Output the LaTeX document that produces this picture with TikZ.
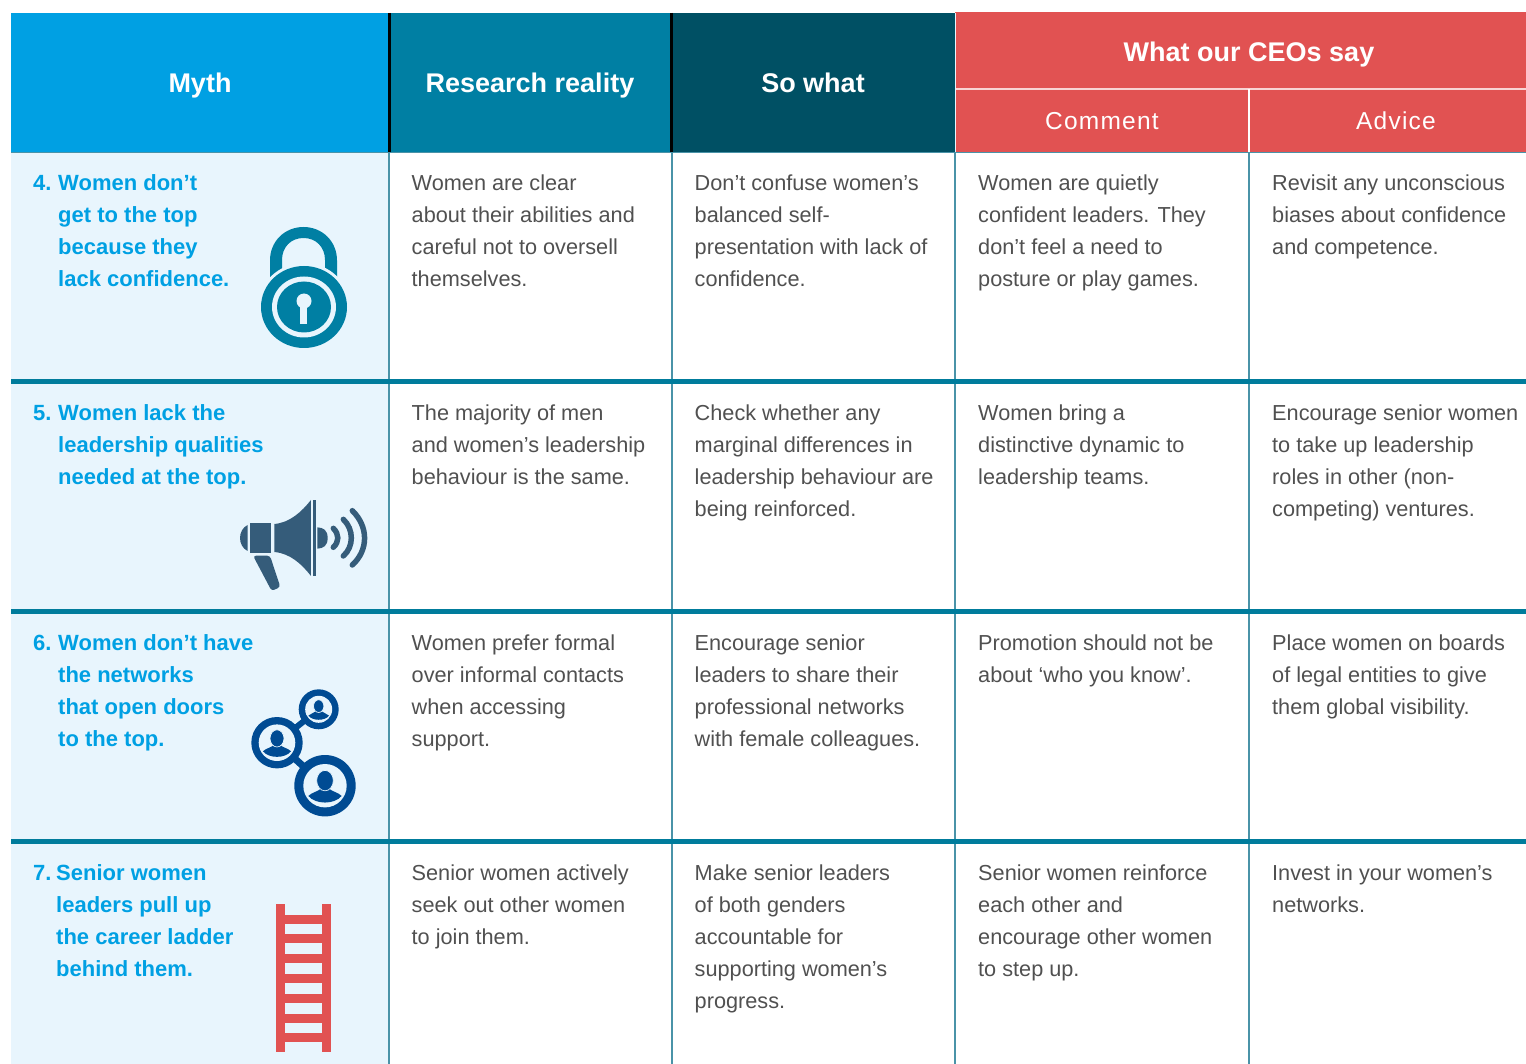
\documentclass[tikz,border=0pt]{standalone}
\usepackage{fontspec}
\setmainfont{Liberation Sans}
\definecolor{mythblue}{HTML}{00A0E3}
\definecolor{research}{HTML}{007FA3}
\definecolor{sowhat}{HTML}{005064}
\definecolor{ceored}{HTML}{E15252}
\definecolor{lightbg}{HTML}{E8F5FD}
\definecolor{rule}{HTML}{007C9C}
\definecolor{thinrule}{HTML}{4A93A8}
\definecolor{bodytext}{HTML}{505050}
\definecolor{mega}{HTML}{355C7A}
\definecolor{netblue}{HTML}{004B93}
\newcommand{\fl}{\rule{0pt}{20pt}}
\newcommand{\pers}[3]{%
  \begin{scope}[shift={(#1,#2)},scale=#3]
    \fill[netblue] (-3.5,2.5) .. controls (-6,5) and (-11,5.5) .. (-14,8.6)
       .. controls (-8,16) and (8,16) .. (14,8.6) .. controls (11,5.5) and (6,5) .. (3.5,2.5) -- cycle;
    \fill[netblue,draw=lightbg,line width=0.7pt] (0,-4.3) ellipse (7 and 8.6);
  \end{scope}}
\tikzset{
  x=1pt,y=-1pt,
  cellbox/.style={inner sep=0pt,anchor=north west,align=left,text=bodytext,font=\fontsize{21.7}{32}\selectfont},
  mythbox/.style={inner sep=0pt,anchor=north west,align=left,text=mythblue,font=\fontsize{22}{32}\selectfont\bfseries},
  headbox/.style={inner sep=0pt,anchor=base,text=white,font=\fontsize{27}{32}\selectfont\bfseries},
  subbox/.style={inner sep=0pt,anchor=base,text=white,font=\fontsize{24.5}{32}\selectfont\addfontfeature{LetterSpace=5}},
  thickrule/.style={draw=rule,line width=5pt},
  thinv/.style={draw=thinrule,line width=1.6pt},
}
\begin{document}
\begin{tikzpicture}
\useasboundingbox (0,0) rectangle (1526,1064);
% backgrounds
\fill[lightbg] (11,152) rectangle (389,1064);
\fill[mythblue] (11,13) rectangle (389,152);
\fill[research] (389,13) rectangle (672,152);
\fill[sowhat] (672,13) rectangle (955,152);
\fill[ceored] (955,12) rectangle (1526,152);
% header rules
\draw[black,line width=3pt] (389.5,13) -- (389.5,152);
\draw[black,line width=3pt] (671.5,13) -- (671.5,152);
\draw[lightbg,line width=1.5pt] (955.5,13) -- (955.5,152);
\draw[white!75!ceored,line width=2pt] (956,89) -- (1526,89);
\draw[white,line width=1.6pt] (1249,89) -- (1249,152);
\draw[thinrule,line width=1.6pt] (11,152.5) -- (1526,152.5);
% grid
\foreach \vx in {389,672,955,1249} \draw[thinv] (\vx,153) -- (\vx,1064);
\foreach \hy in {381.5,611.5,841.5} \draw[thickrule] (11,\hy) -- (1526,\hy);
% headers
\node[headbox] (hmyth) at (200,92.5) {Myth};
\node[headbox] (hres) at (530,92.5) {Research reality};
\node[headbox] (hso) at (813,92.5) {So what};
\node[headbox] (hceo) at (1249,62) {What our CEOs say};
\node[subbox] (hcom) at (1102,130) {Comment};
\node[subbox] (hadv) at (1396,130) {Advice};
% row 1
\node[mythbox] (m4) at (33,170) {\fl\makebox[25pt][l]{4.}Women don’t\\\hspace*{25pt}get to the top\\\hspace*{25pt}because they\\\hspace*{25pt}lack confidence.};
\node[cellbox] (r4) at (411.5,170) {\fl Women are clear\\about their abilities and\\careful not to oversell\\themselves.};
\node[cellbox] (s4) at (694.5,170) {\fl Don’t confuse women’s\\balanced self-\\presentation with lack of\\confidence.};
\node[cellbox] (c4) at (978,170) {\fl Women are quietly\\confident leaders. They\\don’t feel a need to\\posture or play games.};
\node[cellbox] (a4) at (1272,170) {\fl Revisit any unconscious\\biases about confidence\\and competence.};
% row 2
\node[mythbox] (m5) at (33,400) {\fl\makebox[25pt][l]{5.}Women lack the\\\hspace*{25pt}leadership qualities\\\hspace*{25pt}needed at the top.};
\node[cellbox] (r5) at (411.5,400) {\fl The majority of men\\and women’s leadership\\behaviour is the same.};
\node[cellbox] (s5) at (694.5,400) {\fl Check whether any\\marginal differences in\\leadership behaviour are\\being reinforced.};
\node[cellbox] (c5) at (978,400) {\fl Women bring a\\distinctive dynamic to\\leadership teams.};
\node[cellbox] (a5) at (1272,400) {\fl Encourage senior women\\to take up leadership\\roles in other (non-\\competing) ventures.};
% row 3
\node[mythbox] (m6) at (33,630) {\fl\makebox[25pt][l]{6.}Women don’t have\\\hspace*{25pt}the networks\\\hspace*{25pt}that open doors\\\hspace*{25pt}to the top.};
\node[cellbox] (r6) at (411.5,630) {\fl Women prefer formal\\over informal contacts\\when accessing\\support.};
\node[cellbox] (s6) at (694.5,630) {\fl Encourage senior\\leaders to share their\\professional networks\\with female colleagues.};
\node[cellbox] (c6) at (978,630) {\fl Promotion should not be\\about ‘who you know’.};
\node[cellbox] (a6) at (1272,630) {\fl Place women on boards\\of legal entities to give\\them global visibility.};
% row 4
\node[mythbox] (m7) at (33,860) {\fl\makebox[23pt][l]{7.}Senior women\\\hspace*{23pt}leaders pull up\\\hspace*{23pt}the career ladder\\\hspace*{23pt}behind them.};
\node[cellbox] (r7) at (411.5,860) {\fl Senior women actively\\seek out other women\\to join them.};
\node[cellbox] (s7) at (694.5,860) {\fl Make senior leaders\\of both genders\\accountable for\\supporting women’s\\progress.};
\node[cellbox] (c7) at (978,860) {\fl Senior women reinforce\\each other and\\encourage other women\\to step up.};
\node[cellbox] (a7) at (1272,860) {\fl Invest in your women’s\\networks.};
% lock icon
\fill[research] (270,277) -- (270,260.5) .. controls (270,241) and (285,227) .. (303.5,227) .. controls (322,227) and (337,241) .. (337,260.5) -- (337,277) -- (325,277) -- (325,260) .. controls (325,247) and (316,238) .. (303.5,238) .. controls (291,238) and (282,247) .. (282,260) -- (282,277) -- cycle;
\fill[lightbg] (304,307) ellipse (46 and 44);
\fill[research] (304,307) ellipse (43 and 41);
\fill[lightbg] (304,307) ellipse (32 and 30.5);
\fill[research] (304,307) ellipse (27 and 25.5);
\fill[lightbg] (304,301) circle (7.5);
\fill[lightbg] (300.2,303) rectangle (307.4,324.5);
% megaphone icon
\begin{scope}[shift={(230,490)},scale=0.3333]
  \fill[mega] (53,105) .. controls (38,112) and (30,128) .. (30,144) .. controls (30,160) and (38,176) .. (53,183) -- cycle;
  \fill[mega] (60,99) rectangle (124,188);
  \fill[mega] (133,102) .. controls (180,98) and (215,65) .. (243,30) -- (243,258) .. controls (215,222) and (180,190) .. (133,186) -- cycle;
  \fill[mega] (249,30) rectangle (258,258);
  \fill[mega] (262,112) .. controls (280,113) and (293,120) .. (293,144) .. controls (293,168) and (280,175) .. (262,176) -- cycle;
  \fill[mega,rounded corners=3pt] (69,197) -- (120,197) -- (151,291) -- (125,303) -- cycle;
  \draw[mega,line width=5.5pt,line cap=round] (310,115) .. controls (328,133) and (328,155) .. (310,172);
  \draw[mega,line width=5.5pt,line cap=round] (340,88) .. controls (372,118) and (372,170) .. (340,198);
  \draw[mega,line width=5.5pt,line cap=round] (367,62) .. controls (416,110) and (416,180) .. (367,225);
\end{scope}
% network icon
\draw[netblue,line width=6pt] (318.7,709.3) -- (277,742.7);
\draw[netblue,line width=7pt] (277,742.7) -- (325,785.7);
\fill[netblue] (318.7,709.3) circle (20);
\fill[lightbg] (318.7,709.3) circle (13.5);
\fill[netblue] (277,742.7) circle (25.7);
\fill[lightbg] (277,742.7) circle (18.3);
\fill[netblue] (325,785.7) circle (30.7);
\fill[lightbg] (325,785.7) circle (21.7);
\pers{318.7}{709.3}{0.74}
\pers{277}{742.7}{1}
\pers{325}{785.7}{1.19}
% ladder icon
\fill[ceored] (276,904) rectangle (285,1052);
\fill[ceored] (322,904) rectangle (331,1052);
\foreach \ry in {915,934,954,974,994,1014,1033} \fill[ceored] (285,\ry) rectangle (322,\ry+9);
\end{tikzpicture}
\end{document}
